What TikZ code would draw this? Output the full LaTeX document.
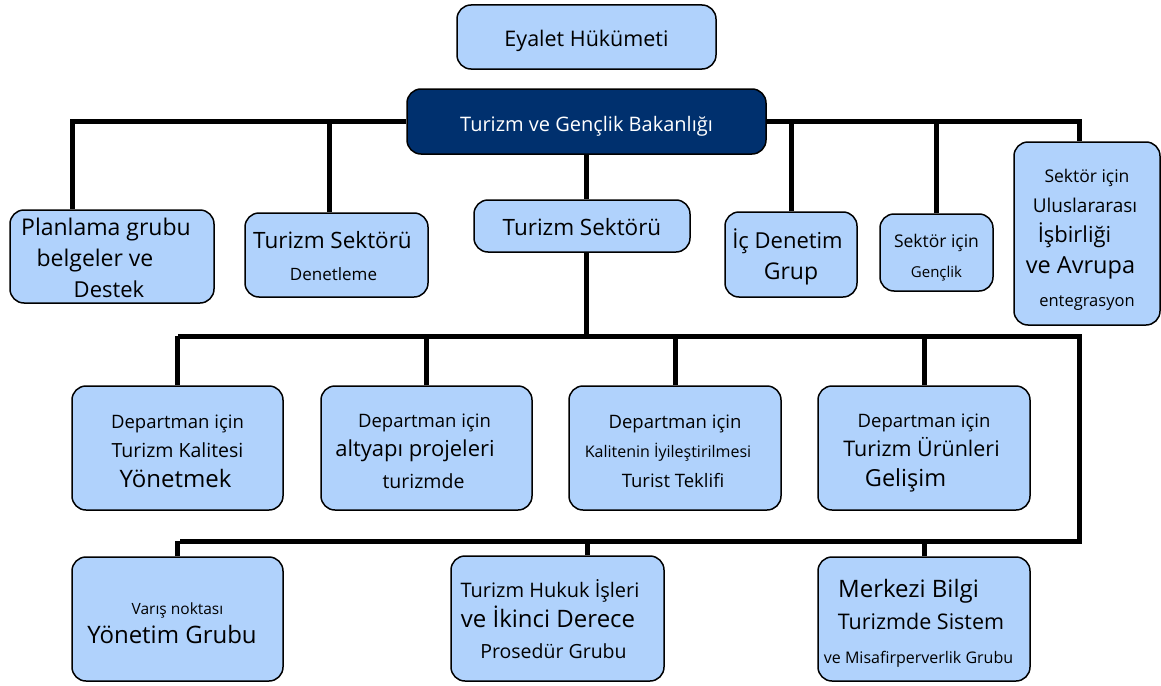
\documentclass[tikz,border=0pt]{standalone}
\usepackage{fontspec}
\setmainfont{Open Sans}
\definecolor{boxblue}{RGB}{176,210,252}
\definecolor{navy}{RGB}{0,48,110}
\newcommand{\fs}[1]{\fontsize{#1}{29}\selectfont\rule[-4.7pt]{0pt}{29pt}}
\tikzset{
	unit/.style = {draw, fill = boxblue, line width = 1.5pt, rounded corners = 14pt, align = center, inner sep = 0pt, font = \fontsize{16}{29}\selectfont},
	link/.style = {line width = 5pt}
}
\begin{document}
\begin{tikzpicture} [x = 1pt, y = -1pt]
	\useasboundingbox (0,0) rectangle (1161,685);
	\node (eyalet) [unit, minimum width = 259pt, minimum height = 64pt] at (586.5,37) {\fs{21.5}Eyalet Hükümeti};
	\node (bakanlik) [unit, fill = navy, text = white, minimum width = 359pt, minimum height = 65pt] at (586.5,121.5) {\fs{20}Turizm ve Gençlik Bakanlığı};
	\node (planlama) [unit, minimum width = 204pt, minimum height = 93pt] at (112,256.5) {\fs{23}\hspace*{-12pt}Planlama grubu\\\fs{23}\hspace*{-34pt}belgeler ve\\\fs{22}\hspace*{-6pt}Destek};
	\node (denetleme) [unit, minimum width = 183pt, minimum height = 84pt] at (336.5,255) {\fs{22.5}\hspace*{-8pt}Turizm Sektörü\\[3pt]\fs{17}\hspace*{-6pt}Denetleme};
	\node (sektor) [unit, minimum width = 216pt, minimum height = 52pt] at (582,226) {\fs{22.5}Turizm Sektörü};
	\node (icdenetim) [unit, minimum width = 132pt, minimum height = 85pt] at (791,254.5) {\fs{22}\hspace*{-7pt}İç Denetim\\\fs{23}Grup};
	\node (genclik) [unit, minimum width = 113pt, minimum height = 77pt] at (936.5,252.5) {\fs{17.5}Sektör için\\[1pt]\fs{15}Gençlik};
	\node (uluslar) [unit, minimum width = 146pt, minimum height = 183pt] at (1087,233.5) {\rule{0pt}{27pt}\fs{17.5}Sektör için\\[1pt]\fs{19}\hspace*{-4pt}Uluslararası\\[1pt]\fs{22}\hspace*{-25pt}İşbirliği\\[1pt]\fs{23.5}\hspace*{-13pt}ve Avrupa\\[2pt]\fs{16.5}entegrasyon};
	\node (kalite) [unit, minimum width = 211pt, minimum height = 124pt] at (177.5,448) {\fs{18.5}Departman için\\\fs{19.5}Turizm Kalitesi\\[1pt]\fs{24}\hspace*{-4pt}Yönetmek};
	\node (altyapi) [unit, minimum width = 211pt, minimum height = 124pt] at (426.5,448) {\fs{18.5}\hspace*{-4pt}Departman için\\\fs{22}\hspace*{-23pt}altyapı projeleri\\[1pt]\fs{19.5}\hspace*{-6pt}turizmde};
	\node (teklif) [unit, minimum width = 212pt, minimum height = 124pt] at (675,448) {\fs{18.5}Departman için\\\fs{16}\hspace*{-14pt}Kalitenin İyileştirilmesi\\[1pt]\fs{18.5}\hspace*{-4pt}Turist Teklifi};
	\node (urun) [unit, minimum width = 212pt, minimum height = 124pt] at (924,448) {\fs{18.5}Departman için\\\fs{21.5}\hspace*{-5pt}Turizm Ürünleri\\[1pt]\fs{23.5}\hspace*{-37pt}Gelişim};
	\node (varis) [unit, minimum width = 211pt, minimum height = 124pt] at (177.5,619) {\fs{15.5}Varış noktası\\\fs{24}\hspace*{-11pt}Yönetim Grubu};
	\node (hukuk) [unit, minimum width = 213pt, minimum height = 125pt] at (557.5,618.5) {\fs{20}\hspace*{-15pt}Turizm Hukuk İşleri\\\fs{24}\hspace*{-19pt}ve İkinci Derece\\[2pt]\fs{19.5}\hspace*{-8pt}Prosedür Grubu};
	\node (merkezi) [unit, minimum width = 212pt, minimum height = 124pt] at (924,619) {\rule{0pt}{28.5pt}\fs{24}\hspace*{-31pt}Merkezi Bilgi\\[1pt]\fs{21.5}\hspace*{-6pt}Turizmde Sistem\\[5pt]\fs{16}\hspace*{-11pt}ve Misafirperverlik Grubu};
	\coordinate (bus2L) at (178,336);
	\coordinate (bus2R) at (1079,336);
	\coordinate (bus3L) at (180,541);
	\coordinate (bus3R) at (1079,541);
	\draw [link] (bakanlik.west) -| ([xshift = -40pt] planlama.north);
	\draw [link] ([xshift = -7.5pt] denetleme.north) |- (bakanlik.west);
	\draw [link] (bakanlik.east) -| ([xshift = -8pt] uluslar.north);
	\draw [link] (icdenetim.north) |- (bakanlik.east);
	\draw [link] (genclik.north) |- (bakanlik.east);
	\draw [link] (bakanlik.south) -- (bakanlik.south |- sektor.north);
	\draw [link] (bakanlik.south |- sektor.south) -- (bakanlik.south |- bus2L);
	\draw [link] (bus2L) -- (bus2R) -- (bus3R) -- (bus3L);
	\draw [link] (kalite.north) -- (kalite.north |- bus2L);
	\draw [link] (altyapi.north) -- (altyapi.north |- bus2L);
	\draw [link] (teklif.north) -- (teklif.north |- bus2L);
	\draw [link] (urun.north) -- (urun.north |- bus2L);
	\draw [link] (varis.north) -- (varis.north |- bus3L);
	\draw [link] ([xshift = 30pt] hukuk.north) |- (bus3L);
	\draw [link] (merkezi.north) -- (merkezi.north |- bus3L);
\end{tikzpicture}
\end{document}
